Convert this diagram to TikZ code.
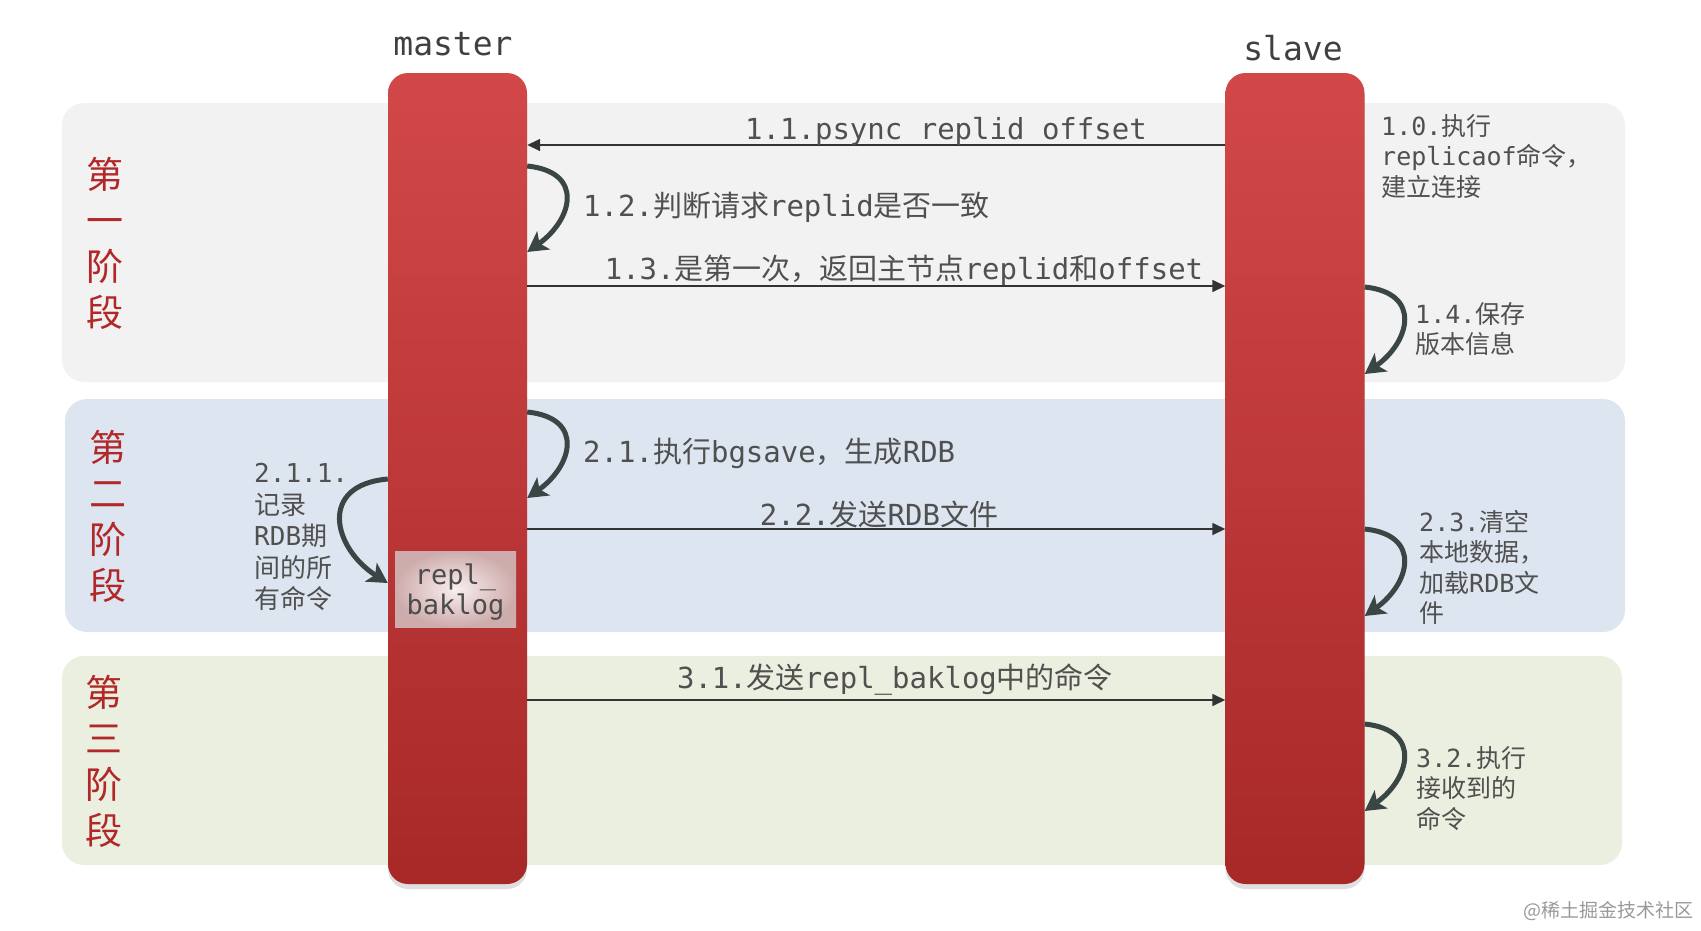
\documentclass[tikz,border=0pt]{standalone}
\usepackage{fontspec}
\setmainfont{DejaVu Sans Mono}
\newfontfamily\cjk{Noto Sans CJK SC}
\usepackage{tikz}
\usetikzlibrary{arrows.meta,positioning,shadows}
\definecolor{barred}{RGB}{210,72,72}
\definecolor{bardark}{RGB}{168,40,40}
\definecolor{phaseone}{RGB}{242,242,242}
\definecolor{phasetwo}{RGB}{221,230,240}
\definecolor{phasethree}{RGB}{235,239,223}
\definecolor{phasered}{RGB}{178,40,40}
\definecolor{textgray}{RGB}{80,80,80}
\definecolor{loopgray}{RGB}{58,70,70}
\definecolor{bakpink}{RGB}{249,238,238}
\definecolor{bakedge}{RGB}{206,172,172}

\begin{document}
\begin{tikzpicture}[x=1pt,y=-1pt,
    bar/.style={minimum width=139pt,minimum height=811pt,rounded corners=20pt,
      top color=barred,bottom color=bardark,inner sep=0pt,
      drop shadow={shadow xshift=0pt,shadow yshift=-5pt,opacity=0.25}},
    msg/.style={draw=black!80,line width=1.5pt,-{Triangle[length=13pt,width=12pt]}},
    selfloop/.style={draw=loopgray,line width=5pt,-{Stealth[length=20pt,width=22pt,inset=5pt]}},
    steplabel/.style={font=\fontsize{29}{34}\selectfont,text=textgray,inner sep=0pt},
    sidelabel/.style={font=\fontsize{25}{30.5}\selectfont,text=textgray,inner sep=0pt,align=left,anchor=north west},
    phaselabel/.style={font=\cjk\fontsize{37}{46}\selectfont,text=phasered,align=center,inner sep=0pt},
    title/.style={font=\fontsize{33}{40}\selectfont,text=black!75,anchor=base}]
  \useasboundingbox (0,0) rectangle (1701,930);
  % Phase backgrounds
  \fill[phaseone,rounded corners=22pt]   (62,103) rectangle (1625,382);
  \fill[phasetwo,rounded corners=22pt]   (65,399) rectangle (1625,632);
  \fill[phasethree,rounded corners=22pt] (62,656) rectangle (1622,865);
  \node[phaselabel] (phase1) at (105,243) {第\\一\\阶\\段};
  \node[phaselabel] (phase2) at (108,516) {第\\二\\阶\\段};
  \node[phaselabel] (phase3) at (104,761) {第\\三\\阶\\段};
  % Bars
  \node[bar] (master) at (457.5,478.5) {};
  \node[bar] (slave)  at (1295,478.5) {};
  \node[title] (mastertitle) at (453,55) {master};
  \node[title] (slavetitle)  at (1293,60) {slave};
  \node[minimum width=121pt,minimum height=76pt,inner sep=0pt,inner color=bakpink,
    outer color=bakedge,align=center,font=\fontsize{27}{30}\selectfont,text=black!70,
    text depth=0pt] (baklog) at (455.5,589) {repl\_\\baklog};
  % Phase 1
  \draw[msg] (slave.west |- 0,145) -- (master.east |- 0,145);
  \node[steplabel,anchor=base] (l11) at (946,139) {1.1.psync replid offset};
  \draw[selfloop] (master.east |- 0,166) .. controls +(58,6) and +(45,-32) .. (master.east |- 0,252);
  \node[steplabel,anchor=base west] (l12) at (583,216) {1.2.{\cjk 判断请求}replid{\cjk 是否一致}};
  \draw[msg] (master.east |- 0,286) -- (slave.west |- 0,286);
  \node[steplabel,anchor=base] (l13) at (904,279) {1.3.{\cjk 是第一次，返回主节点}replid{\cjk 和}offset};
  \node[sidelabel] (l10) at (1381,114) {1.0.{\cjk 执行}\\replicaof{\cjk 命令，}\\{\cjk 建立连接}};
  \draw[selfloop] (slave.east |- 0,287) .. controls +(58,6) and +(45,-32) .. (slave.east |- 0,374);
  \node[sidelabel] (l14) at (1415,302) {1.4.{\cjk 保存}\\{\cjk 版本信息}};
  % Phase 2
  \draw[selfloop] (master.east |- 0,412) .. controls +(58,6) and +(45,-32) .. (master.east |- 0,498);
  \node[steplabel,anchor=base west] (l21) at (583,462) {2.1.{\cjk 执行}bgsave{\cjk ，生成}RDB};
  \draw[selfloop] (master.west |- 0,479) .. controls +(-70,6) and +(-55,-35) .. (master.west |- 0,583);
  \node[sidelabel,font=\fontsize{26}{31.5}\selectfont] (l211) at (254,463) {2.1.1.\\{\cjk 记录}\\RDB{\cjk 期}\\{\cjk 间的所}\\{\cjk 有命令}};
  \draw[msg] (master.east |- 0,529) -- (slave.west |- 0,529);
  \node[steplabel,anchor=base] (l22) at (879,525) {2.2.{\cjk 发送}RDB{\cjk 文件}};
  \draw[selfloop] (slave.east |- 0,529) .. controls +(58,6) and +(45,-32) .. (slave.east |- 0,616);
  \node[sidelabel] (l23) at (1419,510) {2.3.{\cjk 清空}\\{\cjk 本地数据，}\\{\cjk 加载}RDB{\cjk 文}\\{\cjk 件}};
  % Phase 3
  \draw[msg] (master.east |- 0,700) -- (slave.west |- 0,700);
  \node[steplabel,anchor=base] (l31) at (895,688) {3.1.{\cjk 发送}repl\_baklog{\cjk 中的命令}};
  \draw[selfloop] (slave.east |- 0,724) .. controls +(58,6) and +(45,-32) .. (slave.east |- 0,811);
  \node[sidelabel] (l32) at (1416,746) {3.2.{\cjk 执行}\\{\cjk 接收到的}\\{\cjk 命令}};
  % Watermark
  \node[font=\cjk\fontsize{19}{22}\selectfont,text=black!40,anchor=east] (mark) at (1697,911) {@稀土掘金技术社区};
\end{tikzpicture}
\end{document}
